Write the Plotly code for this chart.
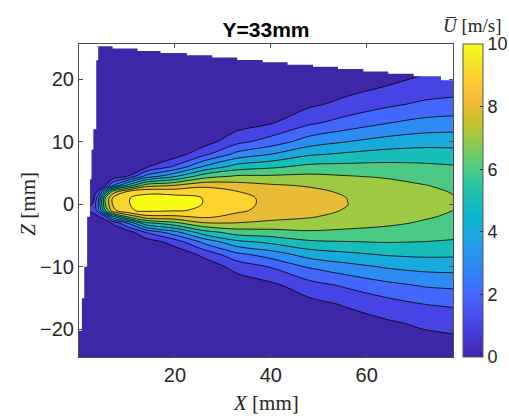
import numpy as np
import plotly.graph_objects as go

# ---- data ----
x_stations = [0, 1.5, 3, 4, 5.5, 7, 10, 14, 20, 26, 33, 40, 48, 56, 64, 72, 78]   # X [mm]
z_grid = [-24.4, -22, -19, -16, -13, -10, -8, -6, -4.5, -3, -2, -1, 0,
          1, 2, 3, 4.5, 6, 8, 10, 13, 16, 19, 22, 25.6]                          # Z [mm]

# mean velocity profiles U(Z) [m/s] at each X station (same order as z_grid)
u_x0   = [0.1]*25
u_x1p5 = [0.1, 0.1, 0.1, 0.1, 0.1, 0.1, 0.1, 0.1, 0.1, 0.2, 0.4, 0.9, 0.6, 0.4, 0.2, 0.1, 0.1, 0.1, 0.1, 0.1, 0.1, 0.1, 0.1, 0.1, 0.1]
u_x3   = [0.1, 0.1, 0.1, 0.1, 0.1, 0.1, 0.1, 0.1, 0.2, 0.3, 0.6, 1.3, 1.1, 0.8, 0.5, 0.3, 0.2, 0.1, 0.1, 0.1, 0.1, 0.1, 0.1, 0.1, 0.1]
u_x4   = [0.1, 0.1, 0.1, 0.1, 0.1, 0.1, 0.1, 0.2, 0.2, 0.3, 0.8, 2.4, 3.0, 2.6, 1.2, 0.4, 0.2, 0.1, 0.1, 0.1, 0.1, 0.1, 0.1, 0.1, 0.1]
u_x5p5 = [0, 0, 0, 0, 0, 0.02, 0.02, 0.02, 0.05, 0.18, 1.86, 6.04, 7.0, 7.0, 4.34, 0.83, 0.05, 0.02, 0.02, 0, 0, 0, 0, 0, 0]
u_x7   = [0, 0, 0, 0, 0, 0, 0, 0.01, 0.03, 1.13, 4.65, 8.68, 9.0, 9.0, 7.42, 2.92, 0.16, 0.01, 0, 0, 0, 0, 0, 0, 0]
u_x10  = [0, 0, 0, 0, 0, 0, 0, 0.01, 0.33, 2.97, 6.95, 9.85, 9.95, 9.95, 9.09, 5.24, 0.90, 0.05, 0, 0, 0, 0, 0, 0, 0]
u_x14  = [0, 0, 0, 0, 0, 0, 0.02, 0.41, 2.01, 5.76, 8.64, 10.20, 10.25, 10.25, 9.82, 7.55, 3.27, 0.83, 0.06, 0, 0, 0, 0, 0, 0]
u_x20  = [0, 0, 0, 0, 0, 0.03, 0.28, 1.45, 3.60, 6.75, 8.78, 10.07, 10.3, 10.3, 9.67, 8.02, 4.79, 2.16, 0.48, 0.07, 0, 0, 0, 0, 0]
u_x26  = [0, 0, 0, 0, 0.03, 0.35, 1.25, 3.26, 5.52, 7.92, 9.18, 9.89, 9.98, 9.98, 9.68, 8.73, 6.51, 4.11, 1.72, 0.53, 0.05, 0, 0, 0, 0]
u_x33  = [0, 0, 0.01, 0.06, 0.35, 1.35, 2.76, 4.77, 6.45, 7.97, 8.72, 9.16, 9.25, 9.25, 9.03, 8.45, 7.10, 5.44, 3.31, 1.71, 0.47, 0.09, 0.01, 0, 0]
u_x40  = [0, 0.01, 0.04, 0.21, 0.74, 2.05, 3.48, 5.24, 6.60, 7.76, 8.34, 8.69, 8.8, 8.79, 8.58, 8.13, 7.10, 5.80, 3.99, 2.43, 0.92, 0.27, 0.06, 0.01, 0]
u_x48  = [0.01, 0.07, 0.24, 0.66, 1.57, 3.10, 4.43, 5.85, 6.85, 7.66, 8.07, 8.32, 8.42, 8.40, 8.24, 7.91, 7.20, 6.26, 4.85, 3.48, 1.82, 0.80, 0.29, 0.09, 0.01]
u_x56  = [0.09, 0.20, 0.50, 1.11, 2.15, 3.65, 4.80, 5.97, 6.76, 7.40, 7.72, 7.92, 8.01, 7.99, 7.85, 7.60, 7.03, 6.30, 5.16, 3.99, 2.42, 1.29, 0.60, 0.24, 0.07]
u_x64  = [0.21, 0.41, 0.84, 1.59, 2.69, 4.09, 5.09, 6.05, 6.68, 7.17, 7.41, 7.57, 7.64, 7.63, 7.52, 7.33, 6.89, 6.31, 5.39, 4.38, 2.95, 1.78, 0.97, 0.47, 0.17]
u_x72  = [0.37, 0.64, 1.18, 1.99, 3.07, 4.33, 5.20, 5.99, 6.50, 6.90, 7.09, 7.22, 7.28, 7.26, 7.18, 7.03, 6.68, 6.21, 5.45, 4.59, 3.31, 2.18, 1.32, 0.73, 0.32]
u_x78  = [0.45, 0.75, 1.32, 2.13, 3.18, 4.37, 5.17, 5.89, 6.36, 6.71, 6.88, 7.00, 7.05, 7.04, 6.96, 6.82, 6.51, 6.09, 5.39, 4.61, 3.41, 2.32, 1.46, 0.85, 0.40]

# edges of the measured region (outside is blank)
top_edge_x = [3.9, 7.0, 12.2, 17.0, 22.5, 27.8, 33.0, 38.3, 43.5, 48.8, 54.0, 59.3, 64.5, 69.8, 75.5, 78.5]
top_edge_z = [25.25, 24.9, 24.5, 24.15, 23.8, 23.45, 23.05, 22.7, 22.3, 21.95, 21.6, 21.2, 20.85, 20.45, 19.8, 19.8]
left_edge_x = [4.0, 3.6, 3.0, 2.6, 2.3, 1.7, 1.1, 0.6, 0.0]
left_edge_z = [26.0, 23.0, 12.0, 8.7, 4.0, -2.0, -10.0, -15.0, -20.2]

levels_start, levels_end, levels_step = 1, 10, 1
cbar_ticks = [0, 2, 4, 6, 8, 10]
x_ticks = [20, 40, 60]
z_ticks = [-20, -10, 0, 10, 20]

columns = [u_x0, u_x1p5, u_x3, u_x4, u_x5p5, u_x7, u_x10, u_x14, u_x20, u_x26,
           u_x33, u_x40, u_x48, u_x56, u_x64, u_x72, u_x78]
U = np.array(columns).T  # rows = z, cols = x

parula_pts = [
    (1, (0.2422, 0.1504, 0.6603)), (5, (0.2706, 0.2147, 0.8364)), (9, (0.2813, 0.3006, 0.9414)),
    (13, (0.2699, 0.3892, 0.9906)), (17, (0.1963, 0.4847, 0.9892)), (21, (0.1687, 0.5703, 0.9359)),
    (25, (0.1248, 0.6459, 0.8883)), (29, (0.0297, 0.7082, 0.8163)), (33, (0.0964, 0.7500, 0.7120)),
    (37, (0.2161, 0.7843, 0.5923)), (41, (0.3909, 0.8029, 0.4354)), (45, (0.6174, 0.7876, 0.2612)),
    (49, (0.8203, 0.7498, 0.1535)), (53, (0.9728, 0.7298, 0.2394)), (57, (0.9892, 0.8136, 0.1885)),
    (61, (0.9597, 0.9135, 0.1423)), (64, (0.9769, 0.9839, 0.0805))]
parula = [[(i - 1) / 63.0, "rgb(%d,%d,%d)" % tuple(round(c * 255) for c in rgb)] for i, rgb in parula_pts]

fig = go.Figure()

# colorbar holder (continuous bar as in MATLAB)
fig.add_trace(go.Scatter(
    x=[40], y=[0], mode="markers", hoverinfo="skip", showlegend=False,
    marker=dict(size=1, opacity=0, color=[0], colorscale=parula, cmin=0, cmax=10,
                showscale=True,
                colorbar=dict(x=(463 - 79) / 374, xanchor="left", xpad=0, ypad=0,
                              y=0.5, yanchor="middle", len=1, lenmode="fraction",
                              thickness=20, thicknessmode="pixels",
                              outlinewidth=1, outlinecolor="#555555",
                              tickvals=cbar_ticks, ticks="inside", ticklen=3,
                              tickcolor="#262626",
                              tickfont=dict(family="Liberation Sans", size=18, color="#262626")))))

fig.add_trace(go.Contour(
    x=x_stations, y=z_grid, z=U,
    autocontour=False,
    contours=dict(start=levels_start, end=levels_end, size=levels_step, coloring="fill"),
    colorscale=parula, showscale=False,
    line=dict(color="black", width=0.8, smoothing=1),
    hoverinfo="skip"))

# blank (unmeasured) regions
fig.add_trace(go.Scatter(
    x=top_edge_x + [78.5, 3.9], y=top_edge_z + [26.5, 26.5],
    mode="lines", line=dict(width=0, shape="hv", color="white"),
    fill="toself", fillcolor="white", hoverinfo="skip", showlegend=False))
fig.add_trace(go.Scatter(
    x=left_edge_x + [-1, -1], y=left_edge_z + [-20.2, 26.5],
    mode="lines", line=dict(width=0, shape="vh", color="white"),
    fill="toself", fillcolor="white", hoverinfo="skip", showlegend=False))

axis_common = dict(showgrid=False, zeroline=False, showline=True, mirror="ticks",
                   linecolor="#4d4d4d", linewidth=1, ticks="inside", ticklen=4,
                   tickcolor="#4d4d4d",
                   tickfont=dict(family="Liberation Sans", size=20, color="#262626"))

fig.update_layout(
    width=509, height=418,
    margin=dict(l=79, r=56, t=44, b=61, autoexpand=False),
    paper_bgcolor="white", plot_bgcolor="white",
    showlegend=False,
    title=dict(text="<b>Y=33mm</b>", x=0.5, xref="paper", xanchor="center",
               y=1 - 30 / 418, yref="container", yanchor="middle",
               font=dict(family="Liberation Sans", size=21, color="black")),
    xaxis=dict(range=[0, 78], tickvals=x_ticks, **axis_common),
    yaxis=dict(range=[-24.4, 25.6], tickvals=z_ticks, **axis_common),
    annotations=[
        dict(text="<i>X</i> [mm]", x=0.5, y=(357 - 403) / 313, xref="paper", yref="paper",
             showarrow=False, xanchor="center", yanchor="middle",
             font=dict(family="Liberation Serif", size=21, color="#262626")),
        dict(text="<i>Z</i> [mm]", x=(28 - 79) / 374, y=0.49, xref="paper", yref="paper",
             showarrow=False, xanchor="center", yanchor="middle", textangle=-90,
             font=dict(family="Liberation Serif", size=21, color="#262626")),
        dict(text="<i>U\u0305</i> [m/s]", x=(472 - 79) / 374, y=(357 - 26) / 313,
             xref="paper", yref="paper", showarrow=False, xanchor="center", yanchor="middle",
             font=dict(family="Liberation Serif", size=19, color="#262626")),
    ])

fig.write_html("out.html")
